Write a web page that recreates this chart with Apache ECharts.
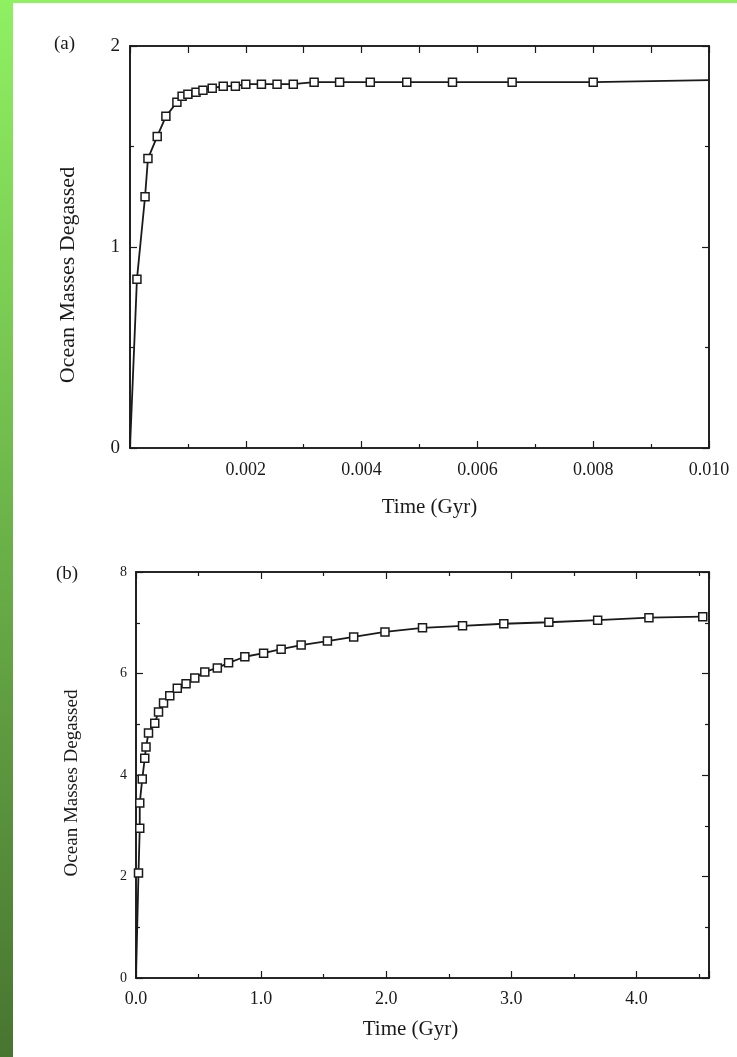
<!DOCTYPE html>
<html>
<head>
<meta charset="utf-8">
<script src="https://cdn.jsdelivr.net/npm/echarts@6/dist/echarts.min.js"></script>
<style>
  html, body { margin: 0; padding: 0; background: #fff; }
  #chart { width: 737px; height: 1057px; }
</style>
</head>
<body>
<div id="chart"></div>
<script>
// Panel (a): early degassing, time in Gyr
const aTime = [0, 0.00012, 0.00026, 0.00031, 0.00047, 0.00062, 0.00081, 0.00090, 0.00100, 0.00114,
  0.00126, 0.00142, 0.00161, 0.00182, 0.00200, 0.00227, 0.00254, 0.00282, 0.00318, 0.00362,
  0.00415, 0.00478, 0.00557, 0.00660, 0.00800, 0.01000];
const aMass = [0, 0.84, 1.25, 1.44, 1.55, 1.65, 1.72, 1.75, 1.76, 1.77,
  1.78, 1.79, 1.80, 1.80, 1.81, 1.81, 1.81, 1.81, 1.82, 1.82,
  1.82, 1.82, 1.82, 1.82, 1.82, 1.83];
// Panel (b): degassing over Earth history
const bTime = [0, 0.02, 0.03, 0.03, 0.05, 0.07, 0.08, 0.10, 0.15, 0.18, 0.22, 0.27, 0.33, 0.40,
  0.47, 0.55, 0.65, 0.74, 0.87, 1.02, 1.16, 1.32, 1.53, 1.74, 1.99, 2.29, 2.61, 2.94,
  3.30, 3.69, 4.10, 4.53];
const bMass = [0, 2.07, 2.95, 3.45, 3.92, 4.33, 4.55, 4.83, 5.02, 5.24, 5.42, 5.56, 5.71, 5.80,
  5.91, 6.03, 6.11, 6.21, 6.33, 6.40, 6.48, 6.56, 6.64, 6.72, 6.82, 6.90, 6.94, 6.98,
  7.01, 7.05, 7.10, 7.12];

const aXTickLabels = ['0.002', '0.004', '0.006', '0.008', '0.010'];
const aYTickLabels = ['0', '1', '2'];
const bXTickLabels = ['0.0', '1.0', '2.0', '3.0', '4.0'];
const bYTickLabels = ['0', '2', '4', '6', '8'];

const xTitle = 'Time (Gyr)';
const yTitle = 'Ocean Masses Degassed';

const FONT = 'Liberation Serif';
const INK = '#1a1a1a';

function pts(t, m, unmarked) {
  return t.map((x, i) => ({
    value: [x, m[i]],
    symbol: unmarked.includes(i) ? 'none' : 'rect'
  }));
}

function baseAxis(extra) {
  return Object.assign({
    axisLine: { show: true, onZero: false, lineStyle: { color: INK, width: 1.6 } },
    axisTick: { show: true, inside: true, length: 7, lineStyle: { color: INK, width: 1.2 } },
    minorTick: { show: true, splitNumber: 2, length: 4, lineStyle: { color: INK, width: 1.2 } },
    splitLine: { show: false },
    minorSplitLine: { show: false }
  }, extra);
}

const chart = echarts.init(document.getElementById('chart'), null, { renderer: 'canvas' });

const option = {
  backgroundColor: '#ffffff',
  animation: false,
  textStyle: { fontFamily: FONT, color: INK },
  grid: [
    { left: 130, right: 28, top: 46, height: 402, show: true, borderColor: INK, borderWidth: 1.6, backgroundColor: 'transparent' },
    { left: 136, right: 28, top: 572, height: 406, show: true, borderColor: INK, borderWidth: 1.6, backgroundColor: 'transparent' }
  ],
  xAxis: [
    baseAxis({
      gridIndex: 0, type: 'value', position: 'bottom', min: 0, max: 0.01, interval: 0.002,
      name: xTitle, nameLocation: 'middle', nameGap: 49,
      nameTextStyle: { fontFamily: FONT, fontSize: 21, color: INK, padding: [0, 0, 0, 20] },
      axisLabel: {
        fontFamily: FONT, fontSize: 18, color: INK, margin: 13,
        formatter: v => { const s = v.toFixed(3); return aXTickLabels.includes(s) ? s : ''; }
      }
    }),
    baseAxis({
      gridIndex: 0, type: 'value', position: 'top', min: 0, max: 0.01, interval: 0.001,
      axisLabel: { show: false }, minorTick: { show: false }
    }),
    baseAxis({
      gridIndex: 1, type: 'value', position: 'bottom', min: 0, max: 4.58, interval: 1,
      name: xTitle, nameLocation: 'middle', nameGap: 41,
      nameTextStyle: { fontFamily: FONT, fontSize: 21, color: INK, padding: [0, 24, 0, 0] },
      axisLabel: {
        fontFamily: FONT, fontSize: 18, color: INK, margin: 12, showMaxLabel: false,
        formatter: v => { const s = v.toFixed(1); return bXTickLabels.includes(s) && Math.abs(v - Math.round(v)) < 1e-6 ? s : ''; }
      }
    }),
    baseAxis({
      gridIndex: 1, type: 'value', position: 'top', min: 0, max: 4.58, interval: 1,
      axisLabel: { show: false }
    })
  ],
  yAxis: [
    baseAxis({
      gridIndex: 0, type: 'value', position: 'left', min: 0, max: 2, interval: 1,
      axisLabel: {
        fontFamily: FONT, fontSize: 19, color: INK, margin: 10,
        formatter: v => { const s = String(Math.round(v)); return aYTickLabels.includes(s) ? s : ''; }
      }
    }),
    baseAxis({
      gridIndex: 0, type: 'value', position: 'right', min: 0, max: 2, interval: 1,
      axisLabel: { show: false }
    }),
    baseAxis({
      gridIndex: 1, type: 'value', position: 'left', min: 0, max: 8, interval: 2,
      axisLabel: {
        fontFamily: FONT, fontSize: 14, color: INK, margin: 9,
        formatter: v => { const s = String(Math.round(v)); return bYTickLabels.includes(s) ? s : ''; }
      }
    }),
    baseAxis({
      gridIndex: 1, type: 'value', position: 'right', min: 0, max: 8, interval: 2,
      axisLabel: { show: false }
    })
  ],
  series: [
    {
      type: 'line', xAxisIndex: 0, yAxisIndex: 0,
      data: pts(aTime, aMass, [0, aTime.length - 1]),
      symbolSize: 8, showAllSymbol: true, clip: false,
      lineStyle: { color: INK, width: 1.8 },
      itemStyle: { color: '#ffffff', borderColor: INK, borderWidth: 1.5 }
    },
    {
      type: 'line', xAxisIndex: 2, yAxisIndex: 2,
      data: pts(bTime, bMass, [0]),
      symbolSize: 8, showAllSymbol: true, clip: false,
      lineStyle: { color: INK, width: 1.8 },
      itemStyle: { color: '#ffffff', borderColor: INK, borderWidth: 1.5 }
    }
  ],
  graphic: [
    {
      type: 'rect', left: 0, top: 0, z: 100,
      shape: { width: 13, height: 1057 },
      style: {
        fill: new echarts.graphic.LinearGradient(0, 0, 0, 1, [
          { offset: 0, color: '#8ff062' },
          { offset: 1, color: '#487530' }
        ])
      }
    },
    { type: 'rect', left: 0, top: 0, z: 100, shape: { width: 737, height: 3 }, style: { fill: '#8ff062' } },
    { type: 'text', left: 54, top: 35, style: { text: '(a)', fontFamily: FONT, fontSize: 19, fill: INK } },
    { type: 'text', left: 56, top: 565, style: { text: '(b)', fontFamily: FONT, fontSize: 19, fill: INK } },
    {
      type: 'text', x: 68, y: 275, rotation: Math.PI / 2,
      style: { text: yTitle, fontFamily: FONT, fontSize: 22, fill: INK, align: 'center', verticalAlign: 'middle' }
    },
    {
      type: 'text', x: 72, y: 783, rotation: Math.PI / 2,
      style: { text: yTitle, fontFamily: FONT, fontSize: 19, fill: INK, align: 'center', verticalAlign: 'middle' }
    }
  ]
};

chart.setOption(option);
</script>
</body>
</html>
